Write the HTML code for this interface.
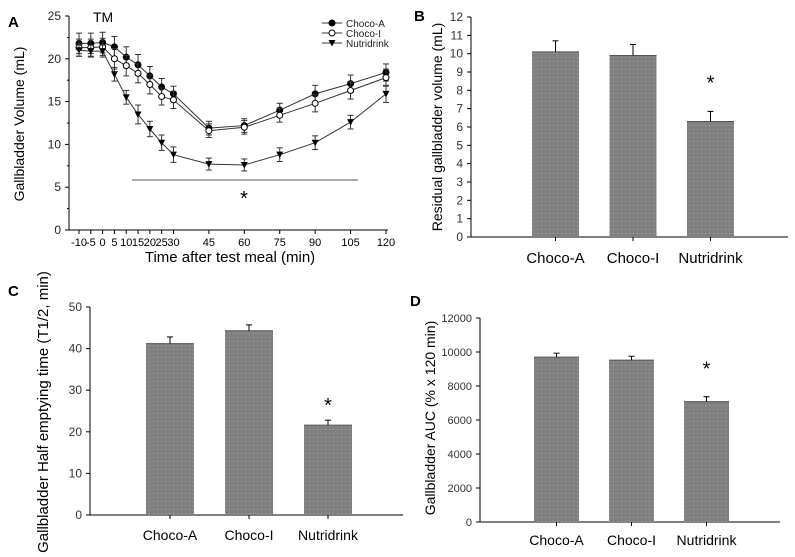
<!DOCTYPE html>
<html><head><meta charset="utf-8"><style>
body{margin:0;background:#fff;width:795px;height:557px;overflow:hidden}
svg{display:block;font-family:"Liberation Sans",Arial,sans-serif}
</style></head><body>
<svg id="fig" width="795" height="557" viewBox="0 0 795 557">
<defs><pattern id="dots" width="4" height="4" patternUnits="userSpaceOnUse"><rect width="4" height="4" fill="#808080"/><rect x="1" y="1" width="1" height="1" fill="#a8a8a8"/></pattern></defs>
</svg>
<script>
// Panel A data
const timePoints=[-10,-5,0,5,10,15,20,25,30,45,60,75,90,105,120];
const chocoAVals=[21.8,21.8,21.9,21.4,20.2,19.3,18.0,16.7,15.9,11.9,12.2,14.0,15.9,17.1,18.4];
const chocoAErr=[1.2,1.2,1.2,1.2,1.2,1.2,1.1,1.0,0.9,0.8,0.8,0.8,1.0,1.0,1.0];
const chocoIVals=[21.3,21.3,21.4,20.0,19.2,18.3,17.0,15.6,15.2,11.6,12.0,13.4,14.8,16.3,17.8];
const chocoIErr=[1.0,1.0,1.0,1.2,1.2,1.1,1.1,1.0,1.0,0.8,0.8,0.8,1.0,1.0,1.0];
const nutriVals=[21.0,20.9,20.9,18.2,15.5,13.5,11.8,10.2,8.8,7.7,7.6,8.8,10.2,12.6,15.9];
const nutriErr=[0.7,0.7,0.7,0.8,0.8,1.1,0.9,0.9,0.9,0.7,0.7,0.8,0.8,0.8,1.0];
const aYTicks=[0,5,10,15,20,25];
// Bar panels
const groups=["Choco-A","Choco-I","Nutridrink"];
const bVals=[10.1,9.9,6.3];const bErr=[0.6,0.6,0.55];
const bTicks=[0,1,2,3,4,5,6,7,8,9,10,11,12];
const cVals=[41.2,44.3,21.6];const cErr=[1.6,1.4,1.2];
const cTicks=[0,10,20,30,40,50];
const dVals=[9700,9520,7080];const dErr=[230,230,290];
const dTicks=[0,2000,4000,6000,8000,10000,12000];

const svg=document.getElementById('fig');const NS='http://www.w3.org/2000/svg';
function mk(tag,attrs,name,text){const e=document.createElementNS(NS,tag);for(const k in attrs)e.setAttribute(k,attrs[k]);


if(text!==undefined)e.textContent=text;svg.appendChild(e);return e;}
function ln(x1,y1,x2,y2,name,w,c){return mk('line',{x1,y1,x2,y2,stroke:c||'#000','stroke-width':w||1},name);}

// ---- Panel A ----
const ax=v=>79+(v+10)*(307/130), ay=v=>230-v*(214/25);
mk('text',{x:8,y:27,'font-size':15,'font-weight':'bold'},'panel-a-label','A');
ln(69,16,69,230,'a-y-axis');ln(69,230,388,230,'a-x-axis');
aYTicks.forEach(t=>{ln(65,ay(t),69,ay(t),'a-y-tick');mk('text',{x:61,y:ay(t)+4,'font-size':12,'text-anchor':'end',fill:'#222'},'a-y-tick-label',t);
 if(t<25)ln(67,ay(t+2.5),69,ay(t+2.5),'a-y-minor-tick');});
timePoints.forEach(t=>{ln(ax(t),230,ax(t),234,'a-x-tick');});
const xl=[-10,-5,0,5,10,15,20,25,30,45,60,75,90,105,120];
xl.forEach(t=>mk('text',{x:ax(t),y:246,'font-size':11,'text-anchor':'middle','font-family':'"Liberation Sans Narrow","Liberation Sans",sans-serif'},'a-x-tick-label',t));
mk('text',{x:230,y:262,'font-size':15,'text-anchor':'middle'},'a-x-axis-title','Time after test meal (min)');
mk('text',{x:0,y:0,'font-size':14,'text-anchor':'middle',transform:'translate(24,124) rotate(-90)'},'a-y-axis-title','Gallbladder Volume (mL)');
mk('text',{x:93,y:22,'font-size':14},'tm-label','TM');
function series(vals,err,name,marker){
 let d='';vals.forEach((v,i)=>{d+=(i?'L':'M')+ax(timePoints[i])+','+ay(v);});
 mk('path',{d,fill:'none',stroke:'#333','stroke-width':1},name+'-line');
 vals.forEach((v,i)=>{const x=ax(timePoints[i]);
  ln(x,ay(v-err[i]),x,ay(v+err[i]),name+'-error-bar',1,'#333');
  ln(x-3,ay(v-err[i]),x+3,ay(v-err[i]),name+'-error-cap',1,'#333');
  ln(x-3,ay(v+err[i]),x+3,ay(v+err[i]),name+'-error-cap',1,'#333');});
 vals.forEach((v,i)=>{const x=ax(timePoints[i]),y=ay(v);
  if(marker==='tri')mk('path',{d:`M${x-3.5},${y-3}L${x+3.5},${y-3}L${x},${y+3.5}Z`,fill:'#000'},name+'-point');
  else mk('circle',{cx:x,cy:y,r:3,fill:marker==='open'?'#fff':'#000',stroke:'#000'},name+'-point');});
}
series(chocoAVals,chocoAErr,'choco-a','filled');
series(chocoIVals,chocoIErr,'choco-i','open');
series(nutriVals,nutriErr,'nutridrink','tri');
ln(132,180,358,180,'significance-line',1,'#555');
mk('text',{x:244,y:205,'font-size':20,'text-anchor':'middle'},'a-asterisk','*');
[['Choco-A','filled'],['Choco-I','open'],['Nutridrink','tri']].forEach((l,i)=>{const y=23+i*10;
 ln(322,y,342,y,'legend-line',1,'#333');
 if(l[1]==='tri')mk('path',{d:`M${328.5},${y-3}L${335.5},${y-3}L332,${y+3.5}Z`},'legend-marker');
 else mk('circle',{cx:332,cy:y,r:3,fill:l[1]==='open'?'#fff':'#000',stroke:'#000'},'legend-marker');
 mk('text',{x:346,y:y+4,'font-size':10,fill:'#222'},'legend-entry',l[0]);});

// ---- bar panel helper ----
function barPanel(p){
 const yf=v=>p.y0-(v/p.max)*(p.y0-p.yTop);
 mk('text',{x:p.lx,y:p.ly,'font-size':15,'font-weight':'bold'},p.id+'-label',p.letter);
 ln(p.ax,p.yTop,p.ax,p.y0,p.id+'-y-axis');ln(p.ax,p.y0,p.xEnd,p.y0,p.id+'-x-axis');
 p.ticks.forEach(t=>{ln(p.ax-4,yf(t),p.ax,yf(t),p.id+'-y-tick');
  mk('text',{x:p.ax-8,y:yf(t)+4,'font-size':p.tfs,'text-anchor':'end',fill:'#333','font-family':p.tff},p.id+'-y-tick-label',t);});
 p.vals.forEach((v,i)=>{const x=p.bx[0]+i*p.step,cx=x+p.bw/2;
  mk('rect',{x,y:yf(v),width:p.bw,height:p.y0-yf(v),fill:'url(#dots)'},p.id+'-bar-'+groups[i].toLowerCase());
  ln(x,yf(v),x+p.bw,yf(v),p.id+'-bar-top',1,'#555');
  ln(cx,yf(v),cx,yf(v+p.err[i]),p.id+'-error-bar');ln(cx-3,yf(v+p.err[i]),cx+3,yf(v+p.err[i]),p.id+'-error-cap');
  ln(cx,p.y0,cx,p.y0+4,p.id+'-x-tick');
  mk('text',{x:cx,y:p.labY,'font-size':p.lfs,'text-anchor':'middle','font-family':p.tff},p.id+'-x-tick-label',groups[i]);});
 const cx=p.bx[0]+2*p.step+p.bw/2;
 mk('text',{x:cx,y:yf(p.vals[2]+p.err[2])-p.astOff,'font-size':20,'text-anchor':'middle'},p.id+'-asterisk','*');
 mk('text',{x:0,y:0,'font-size':p.ttfs||14,'text-anchor':'middle',transform:`translate(${p.tx},${p.ty}) rotate(-90)`},p.id+'-y-axis-title',p.title);
}
barPanel({id:'b',letter:'B',lx:414,ly:21,ax:471,yTop:17,y0:237,xEnd:788,max:12,ticks:bTicks,vals:bVals,err:bErr,
 bx:[532],step:77.5,bw:47,labY:263,lfs:15,tfs:12,tff:'"Liberation Sans",sans-serif',astOff:22,tx:442,ty:127,title:'Residual gallbladder volume (mL)'});
barPanel({id:'c',letter:'C',lx:8,ly:296,ax:90,yTop:307,y0:515,xEnd:403,max:50,ticks:cTicks,vals:cVals,err:cErr,
 bx:[146],step:79,bw:48,labY:540,lfs:14,tfs:12,tff:'"Liberation Sans Narrow","Liberation Sans",sans-serif',astOff:8,tx:48,ty:412,ttfs:15,title:'Gallbladder Half emptying time (T1/2, min)'});
barPanel({id:'d',letter:'D',lx:410,ly:306,ax:480,yTop:318,y0:522,xEnd:780,max:12000,ticks:dTicks,vals:dVals,err:dErr,
 bx:[534],step:75,bw:45,labY:545,lfs:14,tfs:11,tff:'"Liberation Sans Narrow","Liberation Sans",sans-serif',astOff:21,tx:435,ty:418,title:'Gallbladder AUC (% x 120 min)'});
</script>
</body></html>
